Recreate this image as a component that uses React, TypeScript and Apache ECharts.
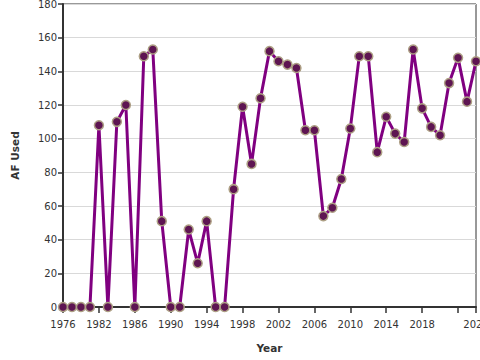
import React, { useEffect, useRef } from "react";
import * as echarts from "echarts";

const years = [
  1978, 1979, 1980, 1981, 1982, 1983, 1984, 1985, 1986, 1987, 1988, 1989,
  1990, 1991, 1992, 1993, 1994, 1995, 1996, 1997, 1998, 1999, 2000, 2001,
  2002, 2003, 2004, 2005, 2006, 2007, 2008, 2009, 2010, 2011, 2012, 2013,
  2014, 2015, 2016, 2017, 2018, 2019, 2020, 2021, 2022, 2023, 2024,
];
const afUsed = [
  0, 0, 0, 0, 108, 0, 110, 120, 0, 149, 153, 51,
  0, 0, 46, 26, 51, 0, 0, 70, 119, 85, 124, 152,
  146, 144, 142, 105, 105, 54, 59, 76, 106, 149, 149, 92,
  113, 103, 98, 153, 118, 107, 102, 133, 148, 122, 146,
];
const tickPositions = [1978, 1982, 1986, 1990, 1994, 1998, 2002, 2006, 2010, 2014, 2018, 2022, 2024];
const labelPositions = [1978, 1982, 1986, 1990, 1994, 1998, 2002, 2006, 2010, 2014, 2018, 2024];
const labelTexts = ["1976", "1982", "1986", "1990", "1994", "1998", "2002", "2006", "2010", "2014", "2018", "2022"];

export default function App() {
  const ref = useRef<HTMLDivElement>(null);
  useEffect(() => {
    if (!ref.current) return;
    const chart = echarts.init(ref.current, undefined, { renderer: "svg" });
    const font = "DejaVu Sans";
    chart.setOption({
      animation: false,
      grid: {
        left: 63,
        right: 4,
        top: 4,
        bottom: 53,
        show: true,
        borderColor: "#333",
        borderWidth: 1,
        containLabel: false,
        outerBoundsMode: "none",
      },
      xAxis: {
        type: "value",
        min: 1978,
        max: 2024,
        name: "Year",
        nameLocation: "middle",
        nameGap: 35,
        nameTextStyle: { fontFamily: font, fontSize: 10.5, fontWeight: "bold", color: "#333" },
        axisLine: { show: true, lineStyle: { color: "#333", width: 2 } },
        axisTick: { show: true, customValues: tickPositions, length: 6, lineStyle: { color: "#333", width: 1.5 } },
        axisLabel: {
          customValues: labelPositions,
          formatter: (v: number) => {
            const i = labelPositions.indexOf(v);
            return i >= 0 ? labelTexts[i] : "";
          },
          fontFamily: font,
          fontSize: 10,
          color: "#333",
          margin: 12,
          showMinLabel: true,
          showMaxLabel: true,
          hideOverlap: false,
        },
        splitLine: { show: false },
      },
      yAxis: {
        type: "value",
        min: 0,
        max: 180,
        interval: 20,
        name: "AF Used",
        nameLocation: "middle",
        nameGap: 43,
        nameTextStyle: { fontFamily: font, fontSize: 10.5, fontWeight: "bold", color: "#333" },
        axisLine: { show: true, lineStyle: { color: "#333", width: 2 } },
        axisTick: { show: true, length: 5, lineStyle: { color: "#333", width: 1.5 } },
        axisLabel: { fontFamily: font, fontSize: 10, color: "#333", margin: 6 },
        splitLine: { show: true, lineStyle: { color: "#d9d9d9", width: 1 } },
      },
      series: [
        {
          type: "line",
          data: years.map((y, i) => [y, afUsed[i]]),
          lineStyle: { color: "#800080", width: 3 },
          symbol: "circle",
          symbolSize: 9,
          itemStyle: { color: "#5e1552", borderColor: "#ad9f84", borderWidth: 1.5 },
          clip: false,
        },
      ],
    });
    return () => chart.dispose();
  }, []);
  return <div ref={ref} style={{ width: 480, height: 360, position: "absolute", left: 0, top: 0 }} />;
}
